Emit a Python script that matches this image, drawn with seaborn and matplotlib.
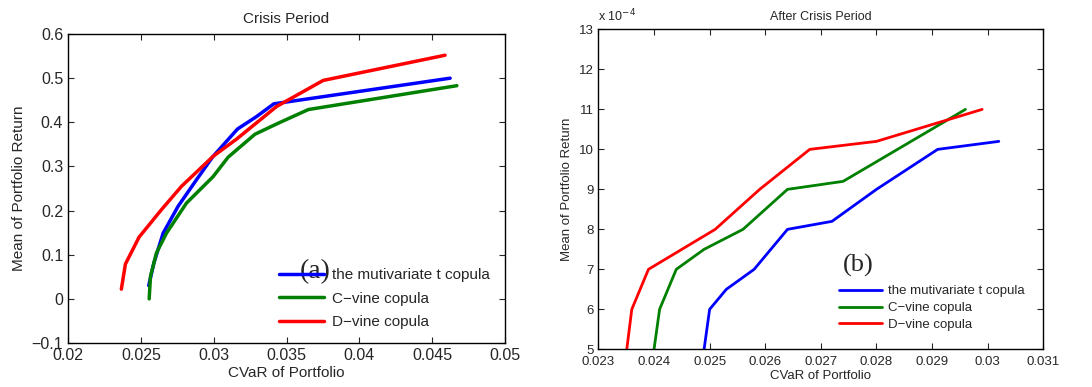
"""
Efficient frontiers (CVaR vs mean return) for three copula models,
crisis period and after-crisis period.
"""

import numpy as np
import pandas as pd
import matplotlib
matplotlib.use('Agg')
import matplotlib.pyplot as plt
from matplotlib.ticker import FuncFormatter
import seaborn as sns

sns.set_style('ticks')
plt.rcParams['font.family'] = ['Liberation Sans', 'DejaVu Sans']

MODELS = ['the mutivariate t copula', 'C\u2212vine copula', 'D\u2212vine copula']
COLORS = ['#0000FF', '#008000', '#FF0000']

# --- (a) crisis period ---
crisis_t_x = [0.02554, 0.02589, 0.02653, 0.02756, 0.02882, 0.02996, 0.03164, 0.03294, 0.03413, 0.03477, 0.04623]
crisis_t_y = [0.030, 0.081, 0.149, 0.210, 0.270, 0.323, 0.385, 0.413, 0.442, 0.445, 0.500]
crisis_c_x = [0.02557, 0.02566, 0.02607, 0.02676, 0.02813, 0.02996, 0.03099, 0.03283, 0.03443, 0.03650, 0.04669]
crisis_c_y = [0.000, 0.051, 0.104, 0.149, 0.217, 0.277, 0.321, 0.373, 0.398, 0.429, 0.483]
crisis_d_x = [0.02366, 0.02394, 0.02488, 0.02641, 0.02779, 0.02996, 0.03157, 0.03432, 0.03752, 0.04588]
crisis_d_y = [0.022, 0.079, 0.140, 0.202, 0.255, 0.323, 0.362, 0.436, 0.495, 0.552]

# --- (b) after crisis period (mean return in units of 1e-4) ---
after_t_x = [0.0249, 0.0250, 0.0253, 0.0258, 0.0264, 0.0272, 0.0280, 0.0291, 0.0302]
after_t_y = [5, 6, 6.5, 7, 8, 8.2, 9, 10, 10.2]
after_c_x = [0.0240, 0.0241, 0.0244, 0.0249, 0.0256, 0.0264, 0.0274, 0.0296]
after_c_y = [5, 6, 7, 7.5, 8, 9, 9.2, 11]
after_d_x = [0.02351, 0.0236, 0.0239, 0.0251, 0.0259, 0.0268, 0.0280, 0.0299]
after_d_y = [5, 6, 7, 8, 9, 10, 10.2, 11]


def to_frame(xs, ys):
    parts = []
    for name, x, y in zip(MODELS, xs, ys):
        parts.append(pd.DataFrame({'cvar': x, 'mean': y, 'model': name}))
    return pd.concat(parts, ignore_index=True)


def g_fmt(v, pos):
    return ('%g' % v).replace('-', '\u2212')


def style_axes(ax, size):
    ax.tick_params(direction='in', top=True, right=True, labelsize=size, length=4, width=0.8)
    for s in ax.spines.values():
        s.set_linewidth(1.0)
        s.set_color('black')
    ax.xaxis.set_major_formatter(FuncFormatter(g_fmt))
    ax.yaxis.set_major_formatter(FuncFormatter(g_fmt))


fig = plt.figure(figsize=(10.92, 3.87), dpi=100)
ax1 = fig.add_axes([0.0623, 0.1137, 0.4002, 0.7983])
ax2 = fig.add_axes([0.548, 0.0974, 0.4074, 0.8266])

df_a = to_frame([crisis_t_x, crisis_c_x, crisis_d_x], [crisis_t_y, crisis_c_y, crisis_d_y])
df_b = to_frame([after_t_x, after_c_x, after_d_x], [after_t_y, after_c_y, after_d_y])

sns.lineplot(data=df_a, x='cvar', y='mean', hue='model', palette=COLORS,
             sort=False, estimator=None, lw=2.5, ax=ax1, legend=False)
sns.lineplot(data=df_b, x='cvar', y='mean', hue='model', palette=COLORS,
             sort=False, estimator=None, lw=2.0, ax=ax2, legend=False)

# panel (a)
ax1.set_xlim(0.02, 0.05)
ax1.set_ylim(-0.1, 0.6)
ax1.set_xticks(np.arange(0.02, 0.0501, 0.005))
ax1.set_yticks(np.arange(-0.1, 0.601, 0.1))
style_axes(ax1, 11.5)
ax1.set_title('Crisis Period', fontsize=11, pad=8)
ax1.set_xlabel('CVaR of Portfolio', fontsize=11, labelpad=2)
ax1.set_ylabel('Mean of Portfolio Return', fontsize=11, labelpad=4)
h1 = [plt.Line2D([], [], color=c, lw=2.5) for c in COLORS]
ax1.legend(h1, MODELS, loc='lower right', bbox_to_anchor=(0.997, 0.0), frameon=False,
           fontsize=11, handlelength=3.0, handletextpad=0.5, labelspacing=0.62)
ax1.text(0.53, 0.19, '(a)', transform=ax1.transAxes, fontsize=20,
         family='Liberation Serif', ha='left', va='bottom')

# panel (b)
ax2.set_xlim(0.023, 0.031)
ax2.set_ylim(5, 13)
ax2.set_xticks(np.arange(0.023, 0.03101, 0.001))
ax2.set_yticks(np.arange(5, 13.1, 1))
style_axes(ax2, 9.5)
ax2.tick_params(axis='x', pad=5)
ax2.set_title('After Crisis Period', fontsize=9, pad=7)
ax2.set_xlabel('CVaR of Portfolio', fontsize=9.5, labelpad=1)
ax2.set_ylabel('Mean of Portfolio Return', fontsize=9.5, labelpad=4)
ax2.text(0.0, 1.015, 'x 10$^{-4}$', transform=ax2.transAxes, fontsize=9, ha='left', va='bottom')
h2 = [plt.Line2D([], [], color=c, lw=2.0) for c in COLORS]
ax2.legend(h2, MODELS, loc='lower right', bbox_to_anchor=(0.985, 0.02), frameon=False,
           fontsize=9.5, handlelength=3.2, handletextpad=0.5, labelspacing=0.35)
ax2.text(0.55, 0.225, '(b)', transform=ax2.transAxes, fontsize=19,
         family='Liberation Serif', ha='left', va='bottom')

fig.savefig('out.png', dpi=100)
